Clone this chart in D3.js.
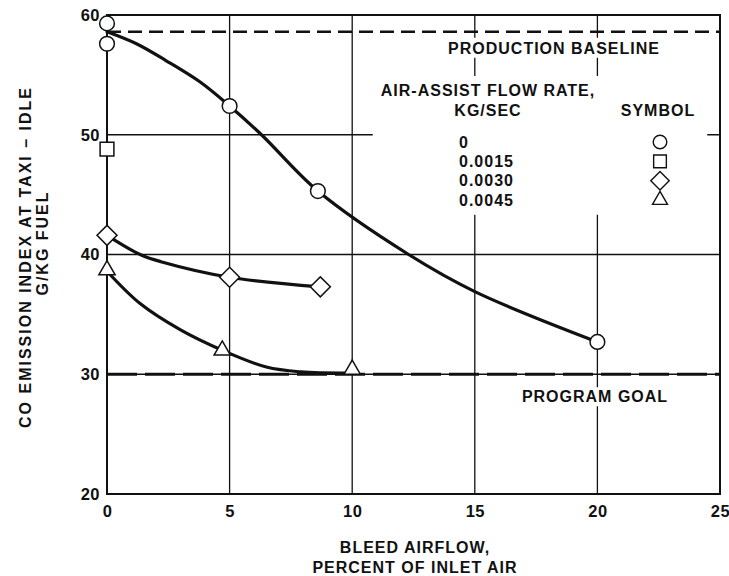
<!DOCTYPE html>
<html>
<head>
<meta charset="utf-8">
<script src="https://cdn.jsdelivr.net/npm/d3@7"></script>
<style>
  html, body { margin: 0; padding: 0; background: #fff; }
  svg text { font-family: "Liberation Sans", Arial, sans-serif; font-weight: bold; fill: #111; }
</style>
</head>
<body>
<svg id="chart" width="729" height="576"></svg>
<script>
// ---------- data ----------
const xTicks = [0, 5, 10, 15, 20, 25];
const yTicks = [20, 30, 40, 50, 60];
const flowRates = ["0", "0.0015", "0.0030", "0.0045"];
const symbolNames = ["circle", "square", "diamond", "triangle"];

// measured points (bleed airflow %, CO EI g/kg)
const circleX = [0, 0, 5, 8.6, 20];
const circleY = [59.3, 57.6, 52.4, 45.3, 32.7];
const squareX = [0];
const squareY = [48.8];
const diamondX = [0, 5, 8.7];
const diamondY = [41.6, 38.1, 37.3];
const triangleX = [0, 4.7, 10];
const triangleY = [38.7, 32.0, 30.4];

// faired curves
const fitCircleX = [0, 1.2, 2.4, 3.8, 5, 6.3, 8.6, 12.3, 15, 20];
const fitCircleY = [58.6, 57.6, 56.2, 54.4, 52.4, 50, 45.3, 40, 36.9, 32.7];
const fitDiamondX = [0, 1.35, 2.2, 5, 8.7];
const fitDiamondY = [41.6, 40, 39.4, 38.1, 37.3];
const fitTriangleX = [0, 1.35, 3, 4.7, 6.5, 7.9, 10];
const fitTriangleY = [38.6, 35.9, 33.7, 32.0, 30.6, 30.2, 30.1];

const baselineValue = 58.6;
const goalValue = 30;

// ---------- layout ----------
const W = 729, H = 576;
const margin = { left: 107, right: 9, top: 15, bottom: 82 };
const svg = d3.select("#chart");
const x = d3.scaleLinear().domain([0, 25]).range([margin.left, W - margin.right]);
const y = d3.scaleLinear().domain([20, 60]).range([H - margin.bottom, margin.top]);

const zip = (a, b) => a.map((v, i) => [v, b[i]]);

// ---------- grid ----------
const grid = svg.append("g").attr("stroke", "#111").attr("stroke-width", 1.3);
grid.selectAll("line.vx").data(xTicks.filter(d => d > 0 && d < 25)).join("line")
  .attr("x1", d => x(d)).attr("x2", d => x(d)).attr("y1", y(20)).attr("y2", y(60));
grid.selectAll("line.hy").data([30, 40, 50]).join("line")
  .attr("x1", x(0)).attr("x2", x(25)).attr("y1", d => y(d)).attr("y2", d => y(d));

// reference lines
svg.append("line").attr("x1", x(0)).attr("x2", x(25))
  .attr("y1", y(baselineValue)).attr("y2", y(baselineValue))
  .attr("stroke", "#111").attr("stroke-width", 2.4).attr("stroke-dasharray", "14,7");
svg.append("line").attr("x1", x(0)).attr("x2", x(25))
  .attr("y1", y(goalValue)).attr("y2", y(goalValue))
  .attr("stroke", "#111").attr("stroke-width", 3).attr("stroke-dasharray", "30,8");

// ---------- text blocks (with white backing that interrupts grid) ----------
function backed(g, pad) {
  const b = g.node().getBBox();
  g.insert("rect", ":first-child")
    .attr("x", b.x - pad[3]).attr("y", b.y - pad[0])
    .attr("width", b.width + pad[1] + pad[3]).attr("height", b.height + pad[0] + pad[2])
    .attr("fill", "#fff");
}

const tStyle = s => s.attr("font-size", 16).attr("letter-spacing", 1);

const gBase = svg.append("g");
gBase.append("text").attr("x", 554).attr("y", y(baselineValue) + 22)
  .attr("text-anchor", "middle").call(tStyle).text("PRODUCTION  BASELINE");
backed(gBase, [2, 3, 1, 3]);

const gGoal = svg.append("g");
gGoal.append("text").attr("x", 595).attr("y", y(goalValue) + 28)
  .attr("text-anchor", "middle").call(tStyle).text("PROGRAM GOAL");
backed(gGoal, [1, 3, 1, 3]);

// legend
const gLeg = svg.append("g");
gLeg.append("text").attr("x", 488).attr("y", 96).attr("text-anchor", "middle").call(tStyle).text("AIR-ASSIST FLOW RATE,");
gLeg.append("text").attr("x", 488).attr("y", 116).attr("text-anchor", "middle").call(tStyle).text("KG/SEC");
gLeg.append("text").attr("x", 658).attr("y", 116).attr("text-anchor", "middle").call(tStyle).text("SYMBOL");
const legY = d3.scalePoint().domain(flowRates).range([142, 200]);
gLeg.selectAll("text.rate").data(flowRates).join("text").attr("class", "rate")
  .attr("x", 459).attr("y", d => legY(d)).attr("dy", "0.36em").call(tStyle).text(d => d);

// ---------- symbols ----------
function symPath(name, scale) {
  const k = scale || 1;
  if (name === "circle") return d3.symbol(d3.symbolCircle, 170 * k)();
  if (name === "square") return d3.symbol(d3.symbolSquare, 190 * k)();
  if (name === "diamond") return d3.symbol(d3.symbolSquare, 200 * k)();
  return d3.symbol(d3.symbolTriangle, 115 * k)();
}
function symTransform(name, px, py) {
  return name === "diamond" ? `translate(${px},${py}) rotate(45)` : `translate(${px},${py})`;
}

gLeg.selectAll("path.lsym").data(symbolNames).join("path").attr("class", "lsym")
  .attr("d", d => symPath(d, 0.85))
  .attr("transform", (d, i) => symTransform(d, 660, legY(flowRates[i])))
  .attr("fill", "#fff").attr("stroke", "#111").attr("stroke-width", 1.4);
backed(gLeg, [6, 12, 6, 8]);

// frame
svg.append("rect").attr("x", x(0)).attr("y", y(60)).attr("width", x(25) - x(0)).attr("height", y(20) - y(60))
  .attr("fill", "none").attr("stroke", "#111").attr("stroke-width", 2);

// ---------- axes labels ----------
const yAxis = svg.append("g").attr("transform", `translate(${x(0)},0)`)
  .call(d3.axisLeft(y).tickValues(yTicks).tickSize(0).tickPadding(7));
yAxis.select(".domain").remove();
yAxis.selectAll("text").attr("font-size", 16.5).attr("font-family", "Liberation Sans, Arial, sans-serif")
  .attr("font-weight", "bold").attr("fill", "#111").attr("letter-spacing", 0.5);

const xAxis = svg.append("g").attr("transform", `translate(0,${y(20)})`)
  .call(d3.axisBottom(x).tickValues(xTicks).tickSize(0).tickPadding(11));
xAxis.select(".domain").remove();
xAxis.selectAll("text").attr("font-size", 16.5).attr("font-family", "Liberation Sans, Arial, sans-serif")
  .attr("font-weight", "bold").attr("fill", "#111").attr("letter-spacing", 0.5);

svg.append("text").attr("x", 415).attr("y", 553).attr("text-anchor", "middle").call(tStyle).text("BLEED AIRFLOW,");
svg.append("text").attr("x", 415).attr("y", 573).attr("text-anchor", "middle").call(tStyle).text("PERCENT OF INLET AIR");

svg.append("text").attr("transform", "translate(31,257) rotate(-90)").attr("text-anchor", "middle")
  .attr("font-size", 16).attr("letter-spacing", 2).text("CO EMISSION INDEX AT TAXI  –  IDLE");
svg.append("text").attr("transform", "translate(48,243) rotate(-90)").attr("text-anchor", "middle")
  .attr("font-size", 16).attr("letter-spacing", 2).text("G/KG FUEL");

// ---------- curves ----------
const line = d3.line().x(d => x(d[0])).y(d => y(d[1])).curve(d3.curveCatmullRom.alpha(0.5));
const curves = [zip(fitCircleX, fitCircleY), zip(fitDiamondX, fitDiamondY), zip(fitTriangleX, fitTriangleY)];
svg.selectAll("path.fit").data(curves).join("path").attr("class", "fit")
  .attr("d", line).attr("fill", "none").attr("stroke", "#111").attr("stroke-width", 3.2)
  .attr("stroke-linecap", "round");

// ---------- markers ----------
const series = [
  { name: "circle", pts: zip(circleX, circleY) },
  { name: "square", pts: zip(squareX, squareY) },
  { name: "diamond", pts: zip(diamondX, diamondY) },
  { name: "triangle", pts: zip(triangleX, triangleY) }
];
series.forEach(s => {
  svg.selectAll(null).data(s.pts).join("path")
    .attr("d", symPath(s.name, 1))
    .attr("transform", d => symTransform(s.name, x(d[0]), y(d[1])))
    .attr("fill", "#fff").attr("stroke", "#111").attr("stroke-width", 1.5);
});
</script>
</body>
</html>
